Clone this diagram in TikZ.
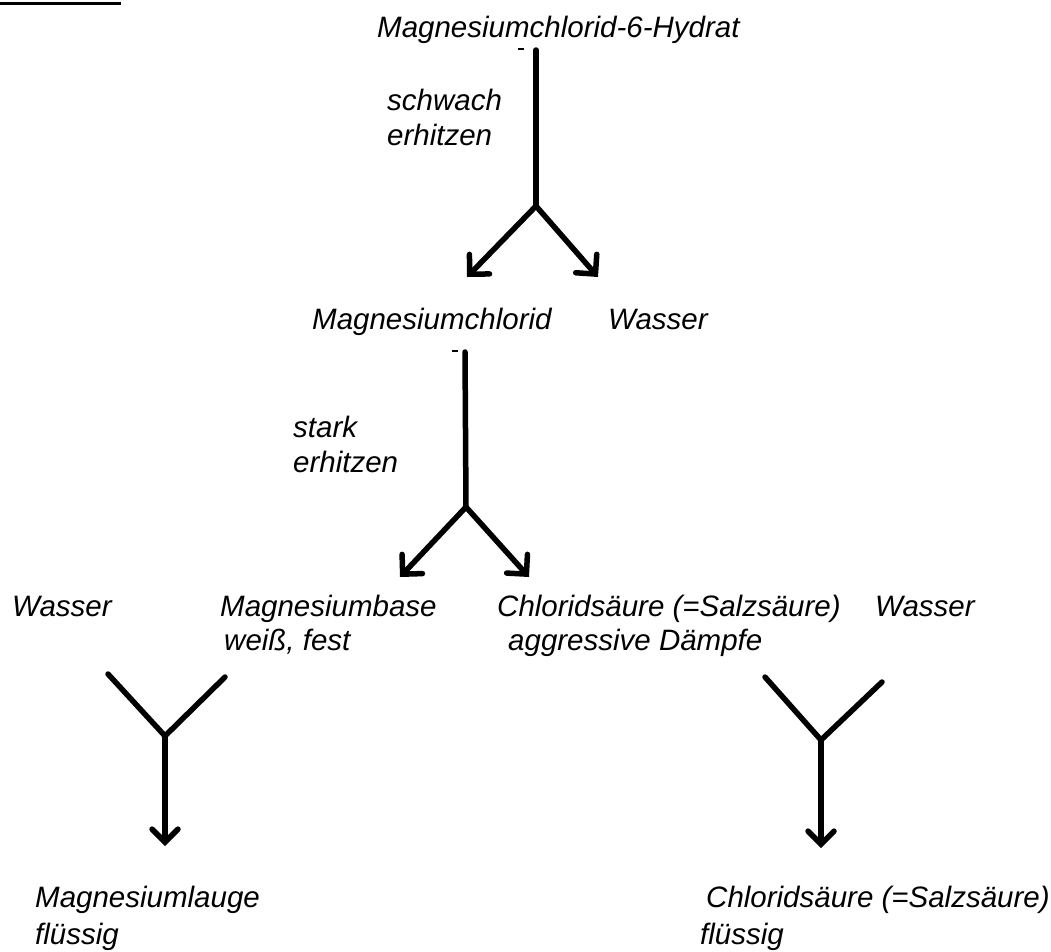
\documentclass[tikz,border=0pt]{standalone}
\usepackage{fontspec}
\setmainfont{Liberation Sans}
\usetikzlibrary{arrows.meta, positioning}

\tikzset{
  lbl/.style={anchor=base west, inner sep=0pt, font=\itshape\fontsize{29.5}{34}\selectfont},
  stem/.style={line width=5.5pt, line cap=round, line join=round},
  arr/.style={stem, -{Straight Barb[length=14pt, width=28pt, line cap=round]}},
  arrsmall/.style={stem, -{Straight Barb[length=13pt, width=26pt, line cap=round]}},
}

\begin{document}
\begin{tikzpicture}[x=1pt,y=-1pt]
  \useasboundingbox (0,0) rectangle (1051,951);
  % Top bar
  \draw[line width=3pt] (0,3.5) -- (121,3.5);

  % Stage 1: weak heating
  \node[lbl] (hydrat) at (377,37) {Magnesiumchlorid-6-Hydrat};
  \node[lbl] (weak1) at (387,110) {schwach};
  \node[lbl] (weak2) at (387,145) {erhitzen};
  \coordinate (top1) at (536,50);
  \coordinate (fork1) at (536,206);
  \coordinate (tipA) at (467,277);
  \coordinate (tipB) at (598,277);
  \draw[line width=1.2pt] (518,49) -- (524,49);
  \draw[stem] (top1) -- (fork1);
  \draw[arr] (fork1) -- (tipA);
  \draw[arr] (fork1) -- (tipB);

  \node[lbl] (mgcl) at (312,329) {Magnesiumchlorid};
  \node[lbl] (water1) at (608,329) {Wasser};

  % Stage 2: strong heating
  \node[lbl] (strong1) at (293,437) {stark};
  \node[lbl] (strong2) at (293,472) {erhitzen};
  \coordinate (top2) at (465,352);
  \coordinate (fork2) at (466,507);
  \coordinate (tipC) at (400,577);
  \coordinate (tipD) at (529,577);
  \draw[line width=1.2pt] (452,351) -- (458,351);
  \draw[stem] (top2) -- (fork2);
  \draw[arr] (fork2) -- (tipC);
  \draw[arr] (fork2) -- (tipD);

  \node[lbl] (water2) at (12,616) {Wasser};
  \node[lbl] (base1) at (220,616) {Magnesiumbase};
  \node[lbl] (base2) at (224,650) {weiß, fest};
  \node[lbl] (acid1) at (497,616) {Chloridsäure (=Salzsäure)};
  \node[lbl] (acid2) at (508,650) {aggressive Dämpfe};
  \node[lbl] (water3) at (875,616) {Wasser};

  % Stage 3: with water
  \coordinate (armL1) at (108,674);
  \coordinate (fork3) at (165,736);
  \coordinate (armR1) at (225,677);
  \coordinate (tipE) at (165,846);
  \draw[stem] (armL1) -- (fork3) -- (armR1);
  \draw[arrsmall] (fork3) -- (tipE);

  \coordinate (armL2) at (765,677);
  \coordinate (fork4) at (821,740);
  \coordinate (armR2) at (882,682);
  \coordinate (tipF) at (821,848);
  \draw[stem] (armL2) -- (fork4) -- (armR2);
  \draw[arrsmall] (fork4) -- (tipF);

  \node[lbl] (lye1) at (35,907) {Magnesiumlauge};
  \node[lbl] (lye2) at (35,944) {flüssig};
  \node[lbl] (hcl1) at (706,907) {Chloridsäure (=Salzsäure)};
  \node[lbl] (hcl2) at (700,944) {flüssig};
\end{tikzpicture}
\end{document}
